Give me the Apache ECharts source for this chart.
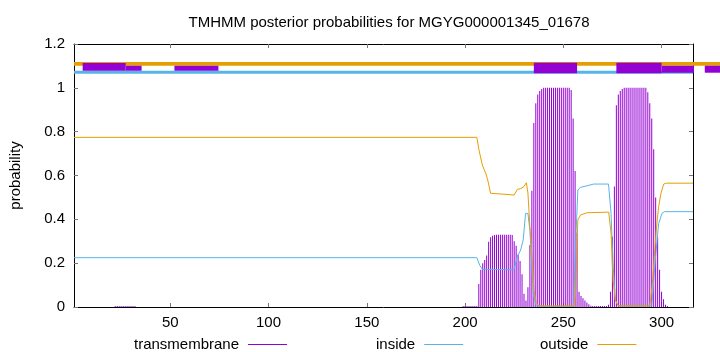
<!DOCTYPE html>
<html>
<head>
<meta charset="utf-8">
<script src="https://cdn.jsdelivr.net/npm/echarts@6/dist/echarts.min.js"></script>
<style>
  html, body { margin: 0; padding: 0; background: #fff; }
  #chart { width: 720px; height: 352px; }
</style>
</head>
<body>
<div id="chart"></div>
<script>
// x ticks and axis range
var xTicks = [50, 100, 150, 200, 250, 300];
var seqLen = 316;

// transmembrane posterior (impulses), one value per residue
var tmX = [22, 23, 24, 25, 26, 27, 28, 29, 30, 31, 32,
    199, 200, 201, 202, 203, 204, 205, 206,
    207, 208, 209, 210, 211, 212, 213, 214, 215, 216, 217, 218, 219, 220,
    221, 222, 223, 224, 225, 226, 227, 228, 229, 230, 231, 232, 233, 234,
    235, 236, 237, 238, 239, 240, 241, 242, 243, 244, 245, 246, 247, 248,
    249, 250, 251, 252, 253, 254, 255, 256, 257, 258, 259, 260, 261, 262,
    263, 264, 265, 266, 267, 268, 269, 270, 271, 272, 273, 274, 275, 276,
    277, 278, 279, 280, 281, 282, 283, 284, 285, 286, 287, 288, 289, 290,
    291, 292, 293, 294, 295, 296, 297, 298, 299, 300, 301, 302, 303];
var tmP = [0.004, 0.004, 0.004, 0.004, 0.004, 0.004, 0.004, 0.004, 0.004, 0.004, 0.004,
    0.004, 0.004, 0.004, 0.004, 0.004, 0.004, 0.004, 0.004,
    0.105, 0.17, 0.2, 0.215, 0.235, 0.298, 0.318, 0.325, 0.328, 0.33, 0.33, 0.33, 0.33, 0.33,
    0.33, 0.33, 0.33, 0.328, 0.3, 0.28, 0.24, 0.21, 0.15, 0.06, 0.03, 0.09, 0.283, 0.53,
    0.84, 0.93, 0.97, 0.985, 0.995, 1, 1, 1, 1, 1, 1, 1, 1, 1,
    1, 1, 1, 1, 1, 0.99, 0.86, 0.62, 0.34, 0.07, 0.05, 0.04, 0.03, 0.02,
    0.012, 0.006, 0.004, 0.004, 0.004, 0.004, 0.004, 0.004, 0.004, 0.004, 0.01, 0.07, 0.32, 0.55,
    0.92, 0.97, 0.985, 0.995, 1, 1, 1, 1, 1, 1, 1, 1, 1, 1,
    1, 1, 0.98, 0.93, 0.86, 0.72, 0.5, 0.32, 0.17, 0.07, 0.035, 0.01, 0.005];

// inside probability [position, value]
var insideLine = [[1, 0.225], [206, 0.225], [206.3, 0.227], [207.5, 0.19], [208.8, 0.172],
    [224.9, 0.17], [226.6, 0.23], [228.3, 0.26], [229.6, 0.306], [230.8, 0.427], [232, 0.427],
    [233, 0.35], [233.9, 0.2], [234.8, 0.06], [236, 0.01], [237.5, 0.003], [255.2, 0.003],
    [256.2, 0.275], [257.4, 0.534], [258.8, 0.546], [265.5, 0.561], [273, 0.561], [274.3, 0.427],
    [275.3, 0.2], [276.5, 0.03], [278, 0.005], [295, 0.005], [296.8, 0.214], [298.5, 0.38],
    [300.2, 0.427], [301.5, 0.435], [316, 0.435]];

// outside probability [position, value]
var outsideLine = [[1, 0.774], [206, 0.774], [207.1, 0.716], [208.8, 0.648], [210.5, 0.61],
    [211.4, 0.585], [213, 0.519], [214, 0.511], [225, 0.511], [226.6, 0.537], [228.3, 0.54],
    [230, 0.55], [231.2, 0.567], [232, 0.52], [233, 0.366], [234.2, 0.214], [235, 0.078],
    [236.2, 0.02], [237.5, 0.005], [255.4, 0.005], [256.2, 0.062], [257.4, 0.397], [258.8, 0.42],
    [262.1, 0.43], [273.1, 0.433], [274.3, 0.336], [275.3, 0.123], [276.5, 0.03], [278, 0.005],
    [294, 0.005], [295.2, 0.093], [297.3, 0.351], [298.5, 0.457], [299.7, 0.519], [301.1, 0.561],
    [302.5, 0.565], [316, 0.565]];

// predicted topology strips along the top: [from, to, low, high]
var outsideStrip = [[1, 330, 1.101, 1.118]];
var insideStrip = [[1, 316, 1.064, 1.078]];
var tmStrip = [[5.4, 27.3, 1.078, 1.113], [27.3, 35.4, 1.078, 1.101], [52.1, 74.5, 1.078, 1.101],
    [235, 257, 1.066, 1.115], [277, 300, 1.066, 1.115], [300, 316.5, 1.069, 1.101],
    [322, 330, 1.069, 1.101]];

var C_TM = '#9400D3';
var C_IN = '#56B4E9';
var C_OUT = '#E69F00';

var tmData = [];
for (var i = 0; i < tmX.length; i++) {
    tmData.push([tmX[i], tmP[i]]);
}

function stripRender(color) {
    return function (params, api) {
        var p0 = api.coord([api.value(0), api.value(3)]);
        var p1 = api.coord([api.value(1), api.value(2)]);
        return {
            type: 'rect',
            shape: { x: p0[0], y: p0[1], width: p1[0] - p0[0], height: p1[1] - p0[1] },
            style: { fill: color }
        };
    };
}

var myChart = echarts.init(document.getElementById('chart'));
var font = 'Liberation Sans, Arial, sans-serif';
var fs = 15;

function legendFor(name, left) {
    return {
        data: [name], left: left, top: 332, align: 'right',
        icon: 'rect', itemWidth: 39, itemHeight: 1,
        textStyle: { fontSize: fs, color: '#000', padding: [0, 4, 0, 0] }
    };
}

var option = {
    animation: false,
    textStyle: { fontFamily: font },
    title: {
        text: 'TMHMM posterior probabilities for MGYG000001345_01678',
        left: 384,
        textAlign: 'center',
        top: 10,
        textStyle: { fontSize: fs, fontWeight: 'normal', color: '#000', fontFamily: font }
    },
    grid: { left: 73, right: 27, top: 44, bottom: 45, containLabel: false },
    legend: [
        legendFor('transmembrane', 129),
        legendFor('inside', 371),
        legendFor('outside', 535)
    ],
    xAxis: [
        {
            type: 'value', min: 1, max: seqLen,
            axisLine: { show: true, onZero: false, lineStyle: { color: '#000' } },
            axisTick: { inside: true, length: 4, customValues: xTicks, lineStyle: { color: '#777' } },
            axisLabel: { customValues: xTicks, fontSize: fs, color: '#000', margin: 8 },
            splitLine: { show: false }
        },
        {
            type: 'value', min: 1, max: seqLen, position: 'top',
            axisLine: { show: true, onZero: false, lineStyle: { color: '#000' } },
            axisTick: { inside: true, length: 4, customValues: xTicks, lineStyle: { color: '#777' } },
            axisLabel: { show: false },
            splitLine: { show: false }
        }
    ],
    yAxis: [
        {
            type: 'value', min: 0, max: 1.2, interval: 0.2,
            name: 'probability', nameLocation: 'middle', nameGap: 51, nameRotate: 90,
            nameTextStyle: { fontSize: fs, color: '#000' },
            axisLine: { show: true, onZero: false, lineStyle: { color: '#000' } },
            axisTick: { inside: true, length: 4, lineStyle: { color: '#777' } },
            axisLabel: { fontSize: fs, color: '#000', margin: 9 },
            splitLine: { show: false }
        },
        {
            type: 'value', min: 0, max: 1.2, interval: 0.2, position: 'right',
            axisLine: { show: true, onZero: false, lineStyle: { color: '#000' } },
            axisTick: { inside: true, length: 4, lineStyle: { color: '#777' } },
            axisLabel: { show: false },
            splitLine: { show: false }
        }
    ],
    series: [
        {
            name: 'outside strip', type: 'custom', xAxisIndex: 0, yAxisIndex: 0,
            renderItem: stripRender(C_OUT), data: outsideStrip, silent: true,
            encode: { x: [0, 1], y: [2, 3] }
        },
        {
            name: 'inside strip', type: 'custom', xAxisIndex: 0, yAxisIndex: 0,
            renderItem: stripRender(C_IN), data: insideStrip, silent: true,
            encode: { x: [0, 1], y: [2, 3] }
        },
        {
            name: 'tm strip', type: 'custom', xAxisIndex: 0, yAxisIndex: 0,
            renderItem: stripRender(C_TM), data: tmStrip, silent: true,
            encode: { x: [0, 1], y: [2, 3] }
        },
        {
            name: 'transmembrane', type: 'bar', data: tmData, barWidth: 1,
            itemStyle: { color: C_TM }
        },
        {
            name: 'inside', type: 'line', data: insideLine, showSymbol: false,
            lineStyle: { color: C_IN, width: 1 }, itemStyle: { color: C_IN }
        },
        {
            name: 'outside', type: 'line', data: outsideLine, showSymbol: false,
            lineStyle: { color: C_OUT, width: 1 }, itemStyle: { color: C_OUT }
        }
    ]
};
myChart.setOption(option);
</script>
</body>
</html>
